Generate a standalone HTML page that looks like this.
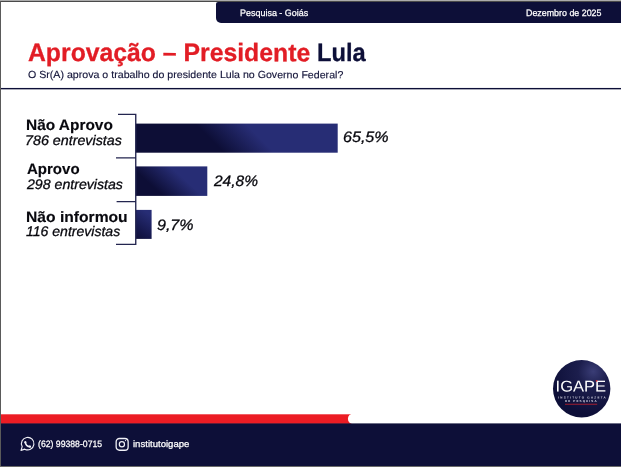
<!DOCTYPE html>
<html lang="pt-BR">
<head>
<meta charset="utf-8">
<title>Aprovação – Presidente Lula</title>
<style>
html,body{margin:0;padding:0;}
body{width:621px;height:467px;position:relative;overflow:hidden;background:#fff;font-family:"Liberation Sans",Arial,Helvetica,sans-serif;color:#0a0a14;}
.abs{position:absolute;white-space:nowrap;line-height:1;transform-origin:0 0;}
#frame-top{left:0;top:0;width:621px;height:1px;background:#ababab;}
#frame-top2{left:0;top:1px;width:621px;height:1px;background:#4a4a4a;}
#frame-left{left:0;top:1px;width:1px;height:466px;background:#5a5a5a;}
#frame-bottom{left:0;top:466px;width:621px;height:1px;background:#6a6a6a;}
#topbar{left:216px;top:2px;width:405px;height:21.4px;background:#0d0f38;border-radius:2px 0 0 5px;}
.w{color:#fff;-webkit-text-stroke:0.25px #fff;}
.ttl{font-weight:bold;color:#e21d25;-webkit-text-stroke:0.3px;}
.navy{color:#0d0f38;}
#sub{color:#14153a;-webkit-text-stroke:0.15px;}
.lab{font-weight:bold;color:#08080e;-webkit-text-stroke:0.15px;}
.cnt{font-style:italic;color:#08080e;-webkit-text-stroke:0.3px;}
.pct{font-style:italic;color:#08080e;-webkit-text-stroke:0.3px;}
#logo{left:553px;top:360.2px;width:57.4px;height:57.4px;}
svg{display:block;overflow:visible;}
</style>
</head>
<body>
<div class="abs" id="topbar"></div>
<div class="abs w" id="tb1" style="left:239.86px;top:8.63px;font-size:9.3px;transform:scaleX(0.9642) rotate(0.03deg)">Pesquisa - Goiás</div>
<div class="abs w" id="tb2" style="left:526.27px;top:8.63px;font-size:9.3px;transform:scaleX(0.9548) rotate(0.03deg)">Dezembro de 2025</div>
<div class="abs ttl" id="t1" style="left:28.28px;top:39.6px;font-size:25.1px;transform:scaleX(0.9869) rotate(0.03deg)">Aprovação – Presidente</div>
<div class="abs ttl navy" id="t2" style="left:316.92px;top:39.6px;font-size:25.1px;transform:scaleX(0.9428) rotate(0.03deg)">Lula</div>
<div class="abs " id="sub" style="left:28.1px;top:70.38px;font-size:10.3px;transform:scaleX(1.0316) rotate(0.03deg)">O Sr(A) aprova o trabalho do presidente Lula no Governo Federal?</div>

<svg class="abs" id="axes" style="left:0;top:0" width="621" height="467" viewBox="0 0 621 467" fill="none" stroke="#23254f" stroke-width="1.35">
<defs><linearGradient id="g1" gradientUnits="userSpaceOnUse" x1="179.38" y1="195.77" x2="294.62" y2="80.52"><stop offset="0.0" stop-color="#0d0e36"/><stop offset="0.38" stop-color="#0d0e36"/><stop offset="0.6" stop-color="#272d75"/><stop offset="1.0" stop-color="#272d75"/></linearGradient><linearGradient id="g2" gradientUnits="userSpaceOnUse" x1="148.57" y1="206.95" x2="195.03" y2="155.35"><stop offset="0.0" stop-color="#0d0e36"/><stop offset="0.26" stop-color="#0d0e36"/><stop offset="0.64" stop-color="#272d75"/><stop offset="1.0" stop-color="#272d75"/></linearGradient><linearGradient id="g3" gradientUnits="userSpaceOnUse" x1="134.62" y1="237.72" x2="153.28" y2="211.08"><stop offset="0.0" stop-color="#0f1038"/><stop offset="0.25" stop-color="#14164a"/><stop offset="0.85" stop-color="#272d75"/><stop offset="1.0" stop-color="#272d75"/></linearGradient></defs>
<rect x="135.8" y="123.6" width="201.9" height="29.1" fill="url(#g1)" stroke="none"/>
<rect x="135.8" y="166.4" width="71.5" height="29.5" fill="url(#g2)" stroke="none"/>
<rect x="135.8" y="209.9" width="15.8" height="29.0" fill="url(#g3)" stroke="none"/>
<path d="M118 114.4H135.75V244.4H116M116 157.8H135.75M116.6 201.6H135.75"/>
<rect x="0" y="87.95" width="621" height="1.4" fill="#0d0f38" stroke="none"/>
</svg>


<div class="abs lab" id="l1" style="left:25.67px;top:116.9px;font-size:15.0px;transform:scaleX(1.0286) rotate(0.03deg)">Não Aprovo</div>
<div class="abs cnt" id="c1" style="left:24.72px;top:134.02px;font-size:13.8px;transform:scaleX(1.0353) rotate(0.03deg)">786 entrevistas</div>
<div class="abs lab" id="l2" style="left:27.03px;top:161.4px;font-size:15.0px;transform:scaleX(1.0012) rotate(0.03deg)">Aprovo</div>
<div class="abs cnt" id="c2" style="left:26.78px;top:177.92px;font-size:13.8px;transform:scaleX(1.025) rotate(0.03deg)">298 entrevistas</div>
<div class="abs lab" id="l3" style="left:25.65px;top:208.9px;font-size:15.0px;transform:scaleX(1.0429) rotate(0.03deg)">Não informou</div>
<div class="abs cnt" id="c3" style="left:25.84px;top:225.12px;font-size:13.8px;transform:scaleX(1.0174) rotate(0.03deg)">116 entrevistas</div>

<div class="abs pct" id="p1" style="left:343.2px;top:128.72px;font-size:15.1px;transform:scaleX(1.0654) rotate(0.03deg)">65,5%</div>
<div class="abs pct" id="p2" style="left:213.69px;top:173.02px;font-size:15.1px;transform:scaleX(1.0275) rotate(0.03deg)">24,8%</div>
<div class="abs pct" id="p3" style="left:157.05px;top:217.12px;font-size:15.1px;transform:scaleX(1.062) rotate(0.03deg)">9,7%</div>

<div class="abs" id="logo">
<svg width="57.4" height="57.4" viewBox="0 0 57.4 57.4">
<defs><radialGradient id="lg" cx="0.70" cy="0.20" r="0.75"><stop offset="0" stop-color="#3a3d76"/><stop offset="0.35" stop-color="#1c1e4d"/><stop offset="1" stop-color="#0d0f38"/></radialGradient></defs>
<circle cx="28.7" cy="28.7" r="28.7" fill="url(#lg)"/>
<text transform="rotate(0.03)" x="2.6" y="31.6" font-family="Liberation Sans, Arial, sans-serif" font-size="15.6" fill="#fff" textLength="50.6" lengthAdjust="spacingAndGlyphs">IGAPE</text>
<circle cx="43.6" cy="20.8" r="0.85" fill="#d8202a"/>
<text transform="rotate(0.03)" x="5.3" y="38.4" font-family="Liberation Sans, Arial, sans-serif" font-weight="bold" font-size="3.0" fill="#dcdce8" textLength="47.4" lengthAdjust="spacing">INSTITUTO GAZETA</text>
<text transform="rotate(0.03)" x="12" y="42.1" font-family="Liberation Sans, Arial, sans-serif" font-weight="bold" font-size="3.0" fill="#dcdce8" textLength="31.6" lengthAdjust="spacing">DE PESQUISA</text>
<rect x="12" y="43.8" width="32.2" height="0.8" fill="#c4202c"/>
</svg>
</div>

<svg class="abs" id="footbg" style="left:0;top:400px" width="621" height="67" viewBox="0 400 621 67">
<rect x="0" y="414.3" width="353" height="9.6" fill="#ec1c24"/>
<circle cx="353.2" cy="418.85" r="5.3" fill="#fff"/>
<rect x="0" y="423.4" width="621" height="44" fill="#0d0f38"/>
</svg>

<div class="abs" id="wa" style="left:18px;top:435px;width:18px;height:18px">
<svg width="18" height="18" viewBox="0 0 18 18" fill="none" stroke="#f0f0f6" stroke-width="1.15" stroke-linejoin="round" stroke-linecap="round">
<path d="M6.77 14.15A6.25 6.25 0 1 0 4.18 11.56L3.05 15.35Z"/>
<path d="M7.35 7.1C7.4 9.7 9.5 11.7 12.1 11.65" stroke-width="1.75"/>
<circle cx="7.3" cy="7.3" r="1.1" fill="#f0f0f6" stroke="none"/>
<circle cx="11.9" cy="11.55" r="1.1" fill="#f0f0f6" stroke="none"/>
</svg>
</div>
<div class="abs w" id="f1" style="left:38.26px;top:439.71px;font-size:9.2px;transform:scaleX(0.9436) rotate(0.03deg)">(62) 99388-0715</div>
<div class="abs" id="ig" style="left:114px;top:436px;width:16px;height:16px">
<svg width="16" height="16" viewBox="0 0 16 16" fill="none" stroke="#f0f0f6" stroke-width="1.3">
<rect x="2.15" y="2.5" width="12" height="11.75" rx="3.3"/>
<circle cx="7.9" cy="8.3" r="2.6" stroke-width="1.2"/>
<circle cx="11.55" cy="4.6" r="0.65" fill="#f0f0f6" stroke="none"/>
</svg>
</div>
<div class="abs w" id="f2" style="left:133.06px;top:439.71px;font-size:9.2px;transform:scaleX(1.0411) rotate(0.03deg)">institutoigape</div>

<div class="abs" id="frame-top"></div>
<div class="abs" id="frame-top2"></div>
<div class="abs" id="frame-left"></div>
<div class="abs" id="frame-bottom"></div>
</body>
</html>
